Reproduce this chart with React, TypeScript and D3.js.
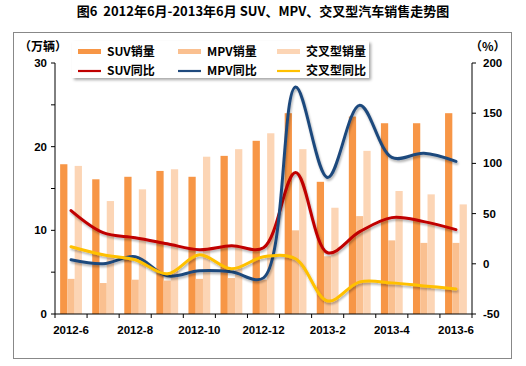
import React from 'react'
import * as d3 from 'd3'

const months = ['2012-6', '2012-7', '2012-8', '2012-9', '2012-10', '2012-11', '2012-12', '2013-1', '2013-2', '2013-3', '2013-4', '2013-5', '2013-6']
const monthLabels = ['2012-6', '2012-8', '2012-10', '2012-12', '2013-2', '2013-4', '2013-6']

// sales, 10k units
const suvSales = [17.9, 16.1, 16.4, 17.1, 16.4, 18.9, 20.7, 24.0, 15.8, 23.6, 22.8, 22.8, 24.0]
const mpvSales = [4.2, 3.7, 4.1, 4.0, 4.2, 4.3, 4.1, 10.0, 6.9, 11.7, 8.8, 8.5, 8.5]
const crossSales = [17.7, 13.5, 14.9, 17.3, 18.8, 19.7, 21.6, 19.7, 12.7, 19.5, 14.7, 14.3, 13.1]

// year-on-year growth, %
const suvYoy = [53, 31, 26, 20, 14, 18, 16, 91, 11, 32, 46, 42, 34]
const mpvYoy = [4, 0, 7, -12, -7, -8, -14, 176, 86, 158, 106, 110, 102]
const crossYoy = [17, 9, 4, -10, 9, -5, 7, 5, -37, -18, -19, -22, -25]

const leftTicks = [0, 10, 20, 30]
const leftMinor = [5, 15, 25]
const rightTicks = [-50, 0, 50, 100, 150, 200]

const barSeries = [
  { key: 'suv', name: 'SUV销量', color: '#F79646', values: suvSales },
  { key: 'mpv', name: 'MPV销量', color: '#FAC090', values: mpvSales },
  { key: 'cross', name: '交叉型销量', color: '#FCD5B5', values: crossSales },
]
const lineSeries = [
  { key: 'suvY', name: 'SUV同比', color: '#C00000', values: suvYoy },
  { key: 'mpvY', name: 'MPV同比', color: '#1F497D', values: mpvYoy },
  { key: 'crossY', name: '交叉型同比', color: '#FFC000', values: crossYoy },
]

const W = 526
const H = 366
const m = { left: 55, right: 472, top: 63, bottom: 314 }
const font = "'Liberation Sans', Arial, sans-serif"
const cjk = "'Noto Sans CJK SC', 'Liberation Sans', sans-serif"

export default function App() {
  const x = d3.scaleBand<string>().domain(months).range([m.left, m.right])
  const bw = x.bandwidth()
  const x1 = d3.scaleBand<string>().domain(barSeries.map(s => s.key)).range([bw * 0.16, bw * 0.84])
  const yL = d3.scaleLinear().domain([0, 30]).range([m.bottom, m.top])
  const yR = d3.scaleLinear().domain([-50, 200]).range([m.bottom, m.top])

  const line = d3.line<number>()
    .x((_, i) => (x(months[i]) as number) + bw / 2)
    .y(d => yR(d))
    .curve(d3.curveCatmullRom.alpha(0.5))

  const legendCols = [78, 178, 277]

  return (
    <svg width={W} height={H} style={{ position: 'absolute', left: 0, top: 0, background: '#fff' }}>
      <defs>
        <filter id="shadow" x="-10%" y="-10%" width="120%" height="130%">
          <feDropShadow dx="1" dy="2" stdDeviation="1.2" floodColor="#000" floodOpacity="0.3" />
        </filter>
        <filter id="boxshadow" x="-10%" y="-20%" width="120%" height="160%">
          <feDropShadow dx="2" dy="2" stdDeviation="1.5" floodColor="#000" floodOpacity="0.35" />
        </filter>
      </defs>

      <text x={263} y={16} textAnchor="middle" fontFamily={cjk} fontWeight="bold" fontSize={13}
        fill="#000" style={{ whiteSpace: 'pre' }}>
        {'图6  2012年6月-2013年6月 SUV、MPV、交叉型汽车销售走势图'}
      </text>

      <rect x={13.5} y={32.5} width={498} height={326} fill="#fff" stroke="#888" strokeWidth={1} />

      {/* bars */}
      {barSeries.map(s => (
        <g key={s.key}>
          {s.values.map((v, i) => (
            <rect key={i} x={(x(months[i]) as number) + (x1(s.key) as number)} y={yL(v)}
              width={x1.bandwidth()} height={yL(0) - yL(v)} fill={s.color} />
          ))}
        </g>
      ))}

      {/* lines */}
      {lineSeries.map(s => (
        <path key={s.key} d={line(s.values) || ''} fill="none" stroke={s.color} strokeWidth={3}
          strokeLinecap="round" strokeLinejoin="round" filter="url(#shadow)" />
      ))}

      {/* left axis */}
      <g fontFamily={font} fontWeight="bold" fontSize={11.5} fill="#000">
        <line x1={m.left} x2={m.left} y1={m.top} y2={m.bottom} stroke="#000" />
        {leftTicks.map(t => (
          <g key={t}>
            <line x1={m.left - 4} x2={m.left} y1={yL(t)} y2={yL(t)} stroke="#000" />
            <text x={m.left - 8} y={yL(t) + 4} textAnchor="end">{t}</text>
          </g>
        ))}
        {leftMinor.map(t => (
          <line key={t} x1={m.left - 4} x2={m.left} y1={yL(t)} y2={yL(t)} stroke="#000" />
        ))}
      </g>

      {/* right axis */}
      <g fontFamily={font} fontWeight="bold" fontSize={11.5} fill="#000">
        <line x1={m.right} x2={m.right} y1={m.top} y2={m.bottom} stroke="#000" />
        {rightTicks.map(t => (
          <g key={t}>
            <line x1={m.right} x2={m.right + 4} y1={yR(t)} y2={yR(t)} stroke="#000" />
            <text x={m.right + 11} y={yR(t) + 4} textAnchor="start">{t}</text>
          </g>
        ))}
      </g>

      {/* x axis */}
      <g fontFamily={font} fontWeight="bold" fontSize={11.5} fill="#000">
        <line x1={m.left} x2={m.right} y1={m.bottom} y2={m.bottom} stroke="#000" />
        {months.map(mo => (
          <line key={mo} x1={x(mo)} x2={x(mo)} y1={m.bottom} y2={m.bottom + 4} stroke="#000" />
        ))}
        <line x1={m.right} x2={m.right} y1={m.bottom} y2={m.bottom + 4} stroke="#000" />
        {monthLabels.map(mo => (
          <text key={mo} x={(x(mo) as number) + bw / 2} y={m.bottom + 20} textAnchor="middle">{mo}</text>
        ))}
      </g>

      {/* axis units */}
      <text x={19} y={51} fontFamily={cjk} fontWeight="bold" fontSize={12} fill="#000">（万辆）</text>
      <text x={470} y={51} fontFamily={cjk} fontWeight="bold" fontSize={12} fill="#000">（%）</text>

      {/* legend */}
      <rect x={72} y={41} width={297} height={37} fill="#fff" filter="url(#boxshadow)" />
      <g fontFamily={cjk} fontWeight="bold" fontSize={12} fill="#000">
        {barSeries.map((s, i) => (
          <g key={s.key}>
            <rect x={legendCols[i]} y={49} width={23} height={5} fill={s.color} />
            <text x={legendCols[i] + 29} y={56}>{s.name}</text>
          </g>
        ))}
        {lineSeries.map((s, i) => (
          <g key={s.key}>
            <line x1={legendCols[i]} x2={legendCols[i] + 23} y1={71} y2={71} stroke={s.color} strokeWidth={2.2} />
            <text x={legendCols[i] + 29} y={75}>{s.name}</text>
          </g>
        ))}
      </g>
    </svg>
  )
}
